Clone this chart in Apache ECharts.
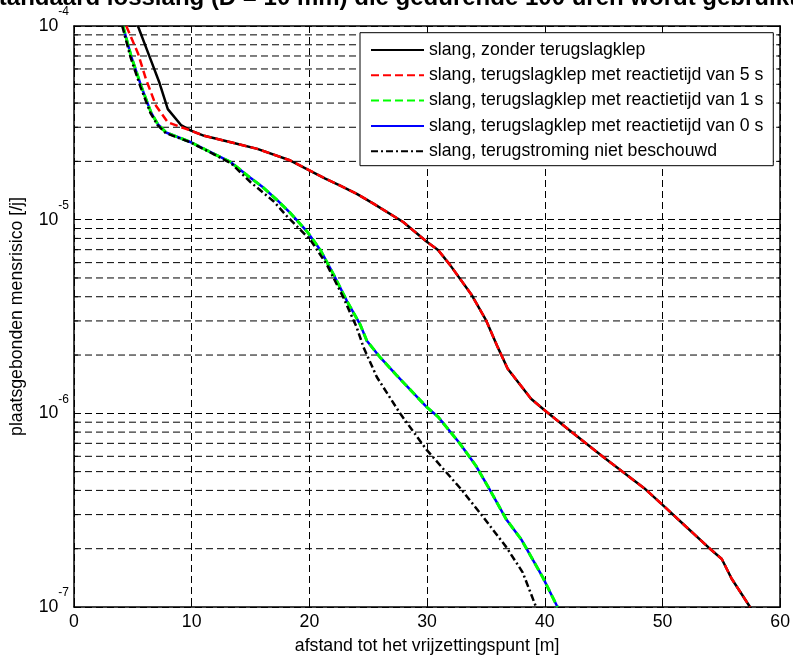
<!DOCTYPE html>
<html><head><meta charset="utf-8">
<script src="https://cdn.jsdelivr.net/npm/echarts@6/dist/echarts.min.js"></script>
<style>html,body{margin:0;padding:0;background:#fff}#c{width:793px;height:660px}</style>
</head><body><div id="c"></div>
<script>
// ---------- data ----------
const titleText = 'standaard losslang (D = 10 mm) die gedurende 100 uren wordt gebruikt';
const xAxisName = 'afstand tot het vrijzettingspunt [m]';
const yAxisName = 'plaatsgebonden mensrisico [/j]';
const xTicks = [0, 10, 20, 30, 40, 50, 60];
const yDecades = [1e-7, 1e-6, 1e-5, 1e-4];
const seriesNames = [
  'slang, zonder terugslagklep',
  'slang, terugslagklep met reactietijd van 5 s',
  'slang, terugslagklep met reactietijd van 1 s',
  'slang, terugslagklep met reactietijd van 0 s',
  'slang, terugstroming niet beschouwd'
];
const zonderKlep = [[5.43,1.00e-4],[6.41,6.97e-5],[7.26,5.09e-5],[7.97,3.72e-5],[9.09,3.08e-5],[9.94,2.88e-5],
  [11.06,2.71e-5],[13.32,2.51e-5],[15.58,2.32e-5],[18.39,2.02e-5],[21.35,1.63e-5],[22.62,1.50e-5],[24.03,1.36e-5],
  [25.44,1.21e-5],[27.97,9.73e-6],[29.95,7.71e-6],[30.93,6.98e-6],[31.93,5.86e-6],[33.76,4.11e-6],[35.03,3.01e-6],
  [36.01,2.19e-6],[36.85,1.70e-6],[38.83,1.19e-6],[39.96,1.04e-6],[42.07,8.2e-7],[44.89,6.0e-7],[48.56,4.05e-7],
  [49.96,3.39e-7],[51.94,2.62e-7],[53.91,2.03e-7],[55.04,1.77e-7],[55.88,1.40e-7],[57.44,1.00e-7]];
const klep5s = [[4.44,1.00e-4],[5.43,7.24e-5],[6.13,5.28e-5],[6.98,3.86e-5],[7.97,3.18e-5],[9.94,2.88e-5],
  [11.06,2.71e-5],[13.32,2.51e-5],[15.58,2.32e-5],[18.39,2.02e-5],[21.35,1.63e-5],[22.62,1.50e-5],[24.03,1.36e-5],
  [25.44,1.21e-5],[27.97,9.73e-6],[29.95,7.71e-6],[30.93,6.98e-6],[31.93,5.86e-6],[33.76,4.11e-6],[35.03,3.01e-6],
  [36.01,2.19e-6],[36.85,1.70e-6],[38.83,1.19e-6],[39.96,1.04e-6],[42.07,8.2e-7],[44.89,6.0e-7],[48.56,4.05e-7],
  [49.96,3.39e-7],[51.94,2.62e-7],[53.91,2.03e-7],[55.04,1.77e-7],[55.88,1.40e-7],[57.44,1.00e-7]];
const klep1s = [[4.16,1.00e-4],[4.86,6.97e-5],[5.71,4.89e-5],[6.55,3.57e-5],[7.12,3.11e-5],[7.82,2.82e-5],
  [9.94,2.51e-5],[11.35,2.27e-5],[13.32,1.98e-5],[14.73,1.69e-5],[16.0,1.48e-5],[17.27,1.26e-5],[18.39,1.08e-5],
  [19.81,8.67e-6],[20.93,6.98e-6],[22.06,5.20e-6],[23.19,3.80e-6],[24.31,2.88e-6],[24.88,2.37e-6],[26.0,1.95e-6],
  [27.42,1.57e-6],[29.95,1.08e-6],[30.93,9.6e-7],[32.77,7.0e-7],[34.18,5.33e-7],[35.31,4.05e-7],[36.72,2.84e-7],
  [37.99,2.24e-7],[39.81,1.43e-7],[41.08,1.00e-7]];
const klep0s = [[4.16,1.00e-4],[4.86,6.97e-5],[5.71,4.89e-5],[6.55,3.57e-5],[7.12,3.11e-5],[7.82,2.82e-5],
  [9.94,2.51e-5],[11.35,2.27e-5],[13.32,1.98e-5],[14.73,1.69e-5],[16.0,1.48e-5],[17.27,1.26e-5],[18.39,1.08e-5],
  [19.81,8.67e-6],[20.93,6.98e-6],[22.06,5.20e-6],[23.19,3.80e-6],[24.31,2.88e-6],[24.88,2.37e-6],[26.0,1.95e-6],
  [27.42,1.57e-6],[29.95,1.08e-6],[30.93,9.6e-7],[32.77,7.0e-7],[34.18,5.33e-7],[35.31,4.05e-7],[36.72,2.84e-7],
  [37.99,2.24e-7],[39.81,1.43e-7],[41.08,1.00e-7]];
const nietBeschouwd = [[4.10,1.00e-4],[4.80,6.90e-5],[5.65,4.85e-5],[6.50,3.55e-5],[7.10,3.08e-5],[7.80,2.80e-5],
  [9.94,2.50e-5],[11.35,2.26e-5],[13.32,1.96e-5],[15.01,1.56e-5],[16.98,1.24e-5],[18.10,1.04e-5],[20.08,7.87e-6],
  [21.49,5.85e-6],[22.90,3.95e-6],[24.03,2.77e-6],[24.59,2.20e-6],[25.73,1.54e-6],[27.70,1.00e-6],[29.95,6.49e-7],
  [32.90,4.05e-7],[34.70,2.95e-7],[36.70,2.05e-7],[38.12,1.51e-7],[39.26,1.00e-7]];
// minor log grid positions (2..9 x 10^k)
const minorMantissas = [2, 3, 4, 5, 6, 7, 8, 9];
const minorExponents = [-7, -6, -5];

// ---------- chart ----------
const FONT = "'Liberation Sans', Arial, Helvetica, sans-serif";
const FS = 17.7;
const minorGrid = [];
minorExponents.forEach(e => minorMantissas.forEach(m => minorGrid.push(m * Math.pow(10, e))));
const xMin = xTicks[0], xMax = xTicks[xTicks.length - 1];
const gridDash = [7, 4];
const gridLineStyle = { color: '#000', width: 1, type: gridDash };
const axisLineStyle = { color: '#000', width: 1.5 };

const chart = echarts.init(document.getElementById('c'), null, { renderer: 'canvas' });

chart.setOption({
  animation: false,
  backgroundColor: '#fff',
  textStyle: { fontFamily: FONT, color: '#000' },
  title: {
    text: titleText, right: -4, top: -14, padding: 0,
    textStyle: { fontFamily: FONT, fontSize: 24, fontWeight: 'bold', color: '#000' }
  },
  grid: { left: 72.5, right: 11, top: 26, bottom: 48, containLabel: false },
  legend: {
    orient: 'vertical', left: 360, top: 32.7,
    padding: [7.3, 10, 4.5, 10],
    itemWidth: 53, itemHeight: 14, itemGap: 5.3,
    backgroundColor: '#fff', borderColor: '#000', borderWidth: 1,
    itemStyle: { opacity: 0 },
    textStyle: { fontFamily: FONT, fontSize: FS, lineHeight: 20, color: '#000' },
    data: seriesNames,
    z: 10
  },
  xAxis: [{
    type: 'value', min: xMin, max: xMax, interval: 10,
    name: xAxisName, nameLocation: 'middle', nameGap: 30,
    nameTextStyle: { fontFamily: FONT, fontSize: FS, color: '#000' },
    axisLine: { show: true, onZero: false, lineStyle: axisLineStyle },
    axisTick: { show: true, inside: true, length: 7, lineStyle: { color: '#000' } },
    axisLabel: { fontFamily: FONT, fontSize: FS, color: '#000', margin: 6 },
    splitLine: { show: true, lineStyle: gridLineStyle }
  }, {
    type: 'value', min: xMin, max: xMax, interval: 10, position: 'top',
    axisLine: { show: true, onZero: false, lineStyle: axisLineStyle },
    axisTick: { show: true, inside: true, length: 7, lineStyle: { color: '#000' } },
    axisLabel: { show: false }, splitLine: { show: false }
  }],
  yAxis: [{
    type: 'log', logBase: 10, min: yDecades[0], max: yDecades[yDecades.length - 1],
    name: yAxisName, nameLocation: 'middle', nameGap: 48,
    nameTextStyle: { fontFamily: FONT, fontSize: FS, color: '#000' },
    axisLine: { show: true, onZero: false, lineStyle: axisLineStyle },
    axisTick: { show: true, inside: true, length: 7, lineStyle: { color: '#000' } },
    axisLabel: {
      margin: 5, showMinLabel: true, showMaxLabel: true,
      formatter: v => '{b|10}{s|' + Math.round(Math.log10(v)) + '}',
      rich: {
        b: { fontFamily: FONT, fontSize: FS, color: '#000', lineHeight: 40, verticalAlign: 'middle' },
        s: { fontFamily: FONT, fontSize: 12, color: '#000', lineHeight: 22, verticalAlign: 'top' }
      }
    },
    splitLine: { show: true, lineStyle: gridLineStyle }
  }, {
    type: 'log', logBase: 10, min: yDecades[0], max: yDecades[yDecades.length - 1], position: 'right',
    axisLine: { show: true, onZero: false, lineStyle: axisLineStyle },
    axisTick: { show: true, inside: true, length: 7, lineStyle: { color: '#000' } },
    axisLabel: { show: false }, splitLine: { show: false }
  }],
  series: [
    {
      name: 'minor-grid', type: 'custom', silent: true, z: 1, clip: false,
      data: minorGrid.map(v => [xMin, v]),
      encode: { x: 0, y: 1 },
      renderItem: (params, api) => {
        const v = api.value(1);
        const p0 = api.coord([xMin, v]);
        const p1 = api.coord([xMax, v]);
        return {
          type: 'group',
          children: [
            { type: 'line', shape: { x1: p0[0], y1: p0[1], x2: p1[0], y2: p1[1] },
              style: { stroke: '#000', lineWidth: 1, lineDash: gridDash } },
            { type: 'line', shape: { x1: p0[0], y1: p0[1], x2: p0[0] + 4, y2: p0[1] },
              style: { stroke: '#000', lineWidth: 1 } },
            { type: 'line', shape: { x1: p1[0] - 4, y1: p1[1], x2: p1[0], y2: p1[1] },
              style: { stroke: '#000', lineWidth: 1 } }
          ]
        };
      }
    },
    {
      name: seriesNames[0], type: 'line', data: zonderKlep, symbol: 'none', z: 2,
      lineStyle: { color: '#000', width: 2.5, type: 'solid' }, itemStyle: { color: '#000' }
    },
    {
      name: seriesNames[3], type: 'line', data: klep0s, symbol: 'none', z: 3,
      lineStyle: { color: '#0000ff', width: 2.5, type: 'solid' }, itemStyle: { color: '#0000ff' }
    },
    {
      name: seriesNames[1], type: 'line', data: klep5s, symbol: 'none', z: 4,
      lineStyle: { color: '#ff0000', width: 2.5, type: [8, 4] }, itemStyle: { color: '#ff0000' }
    },
    {
      name: seriesNames[2], type: 'line', data: klep1s, symbol: 'none', z: 4,
      lineStyle: { color: '#00ff00', width: 3, type: [8, 4] }, itemStyle: { color: '#00ff00' }
    },
    {
      name: seriesNames[4], type: 'line', data: nietBeschouwd, symbol: 'none', z: 5,
      lineStyle: { color: '#000', width: 2.5, type: [7, 3, 2, 3] }, itemStyle: { color: '#000' }
    }
  ]
});
</script></body></html>
